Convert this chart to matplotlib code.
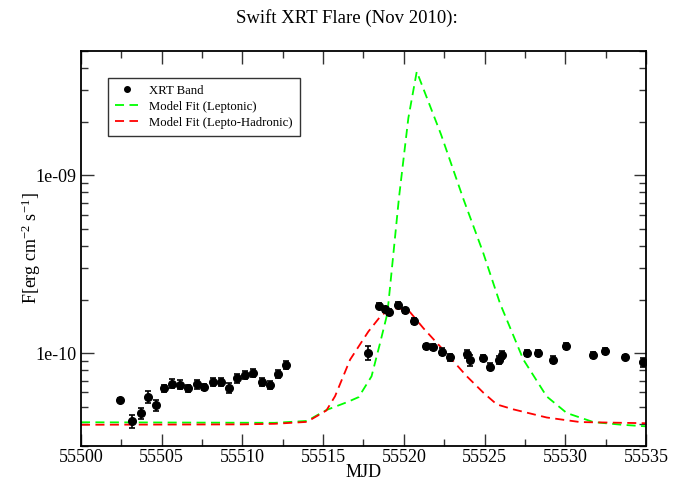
import numpy as np
import matplotlib
matplotlib.use('Agg')
import matplotlib.pyplot as plt
from matplotlib.ticker import MultipleLocator, FixedLocator, FuncFormatter, NullFormatter

plt.rcParams['font.family'] = ['Liberation Serif', 'DejaVu Serif']
plt.rcParams['mathtext.fontset'] = 'custom'
plt.rcParams['mathtext.rm'] = 'Liberation Serif'
plt.rcParams['mathtext.it'] = 'Liberation Serif:italic'

# XRT data: MJD, flux (1e-11 erg cm^-2 s^-1), error (1e-11)
xrt_mjd = [55502.40, 55503.18, 55503.70, 55504.15, 55504.63, 55505.16, 55505.62,
           55506.15, 55506.65, 55507.17, 55507.64, 55508.20, 55508.67, 55509.17,
           55509.67, 55510.18, 55510.68, 55511.20, 55511.69, 55512.21, 55512.68,
           55517.80, 55518.44, 55518.84, 55519.10, 55519.64, 55520.09, 55520.65,
           55521.38, 55521.79, 55522.39, 55522.86, 55523.92, 55524.08, 55524.89,
           55525.34, 55525.88, 55526.07, 55527.61, 55528.30, 55529.22, 55530.03,
           55531.70, 55532.45, 55533.73, 55534.80]
xrt_flux = [5.43, 4.13, 4.60, 5.67, 5.09, 6.32, 6.72,
            6.65, 6.32, 6.68, 6.47, 6.89, 6.89, 6.37,
            7.21, 7.57, 7.73, 6.89, 6.62, 7.63, 8.57,
            10.0, 18.5, 17.6, 17.0, 18.7, 17.4, 15.1,
            10.9, 10.8, 10.2, 9.45, 9.9, 9.1, 9.4,
            8.4, 9.18, 9.75, 10.0, 10.0, 9.18, 11.0,
            9.8, 10.3, 9.5, 8.9]
xrt_err = [0.15, 0.35, 0.33, 0.42, 0.38, 0.30, 0.40,
           0.40, 0.30, 0.40, 0.25, 0.35, 0.35, 0.38,
           0.40, 0.40, 0.40, 0.35, 0.35, 0.40, 0.40,
           0.90, 0.50, 0.60, 0.60, 0.60, 0.50, 0.60,
           0.40, 0.40, 0.50, 0.40, 0.50, 0.60, 0.40,
           0.40, 0.50, 0.50, 0.40, 0.40, 0.40, 0.40,
           0.40, 0.40, 0.30, 0.50]

# Leptonic model (flux in 1e-11)
lep_mjd = [55500.0, 55512.0, 55514.0, 55515.2, 55516.5, 55517.2, 55518.0,
           55518.53, 55518.98, 55519.25, 55519.70, 55520.28, 55520.80, 55522.3,
           55523.69, 55524.9, 55525.96, 55527.40, 55528.85, 55530.09, 55531.74,
           55533.5, 55535.0]
lep_flux = [4.08, 4.05, 4.15, 4.78, 5.30, 5.65, 7.40,
            11.4, 16.7, 29.2, 75.0, 210.0, 383.0, 170.0,
            73.5, 37.0, 19.0, 9.2, 5.7, 4.6, 4.09,
            3.95, 3.87]

# Lepto-hadronic model (flux in 1e-11)
had_mjd = [55500.0, 55510.0, 55512.0, 55514.0, 55515.2, 55515.74, 55516.67,
           55517.80, 55518.53, 55519.15, 55519.77, 55520.38, 55521.21, 55522.45,
           55523.90, 55524.93, 55525.76, 55526.79, 55528.85, 55530.92, 55535.0]
had_flux = [3.95, 3.97, 4.00, 4.10, 4.75, 5.72, 9.18,
            13.2, 16.0, 17.8, 17.8, 17.0, 13.8, 10.4,
            7.4, 5.98, 5.14, 4.82, 4.34, 4.09, 4.03]

y_major = [1e-10, 1e-9]
scale = 1e-11

fig = plt.figure(figsize=(6.94, 4.83), dpi=100)
ax = fig.add_axes([0.1167, 0.0766, 0.8141, 0.8178])

ax.errorbar(xrt_mjd, np.array(xrt_flux) * scale, yerr=np.array(xrt_err) * scale,
            fmt='o', color='black', ms=5.5, elinewidth=1.2, capsize=2.5, capthick=1.2,
            zorder=3)
pts, = ax.plot([], [], 'o', color='black', ms=4, label='XRT Band')
l1, = ax.plot(lep_mjd, np.array(lep_flux) * scale, color='#00ff00', lw=1.3,
              dashes=(5, 3), label='Model Fit (Leptonic)')
l2, = ax.plot(had_mjd, np.array(had_flux) * scale, color='#ff0000', lw=1.3,
              dashes=(5, 3), label='Model Fit (Lepto-Hadronic)')

ax.set_yscale('log')
ax.set_xlim(55500, 55535)
ax.set_ylim(3e-11, 5e-9)

ax.xaxis.set_major_locator(MultipleLocator(5))
ax.xaxis.set_minor_locator(MultipleLocator(2.5))
ax.xaxis.set_major_formatter(FuncFormatter(lambda v, p: '%d' % v))
minors = [m * d for d in (1e-11, 1e-10, 1e-9) for m in range(2, 10)]
ax.yaxis.set_major_locator(FixedLocator(y_major))
ax.yaxis.set_minor_locator(FixedLocator([m for m in minors if 3e-11 <= m <= 5e-9]))
ax.yaxis.set_major_formatter(FuncFormatter(lambda v, p: '%.0e' % v))
ax.yaxis.set_minor_formatter(NullFormatter())

ax.tick_params(which='both', direction='in', top=True, right=True,
               colors='#333333', labelcolor='black', labelsize=13)
ax.tick_params(axis='x', which='major', pad=2)
ax.tick_params(which='major', length=9, width=1)
ax.tick_params(which='minor', length=5, width=1)
for s in ax.spines.values():
    s.set_linewidth(1.3)

ax.set_xlabel('MJD', fontsize=13, labelpad=-1)
ax.set_ylabel('F[erg cm$^{-2}$ s$^{-1}$]', fontsize=13, labelpad=-6)
fig.text(0.5, 0.962, 'Swift XRT Flare (Nov 2010):', fontsize=13.5,
         ha='center', va='center')

leg = ax.legend(handles=[pts, l1, l2], loc='upper left', bbox_to_anchor=(0.048, 0.932),
                borderaxespad=0, fontsize=9.2, frameon=True, fancybox=False,
                edgecolor='black', handlelength=1.8, handletextpad=0.85,
                labelspacing=0.3, borderpad=0.55)
leg.get_frame().set_linewidth(1.0)

plt.savefig('out.png', dpi=100)
